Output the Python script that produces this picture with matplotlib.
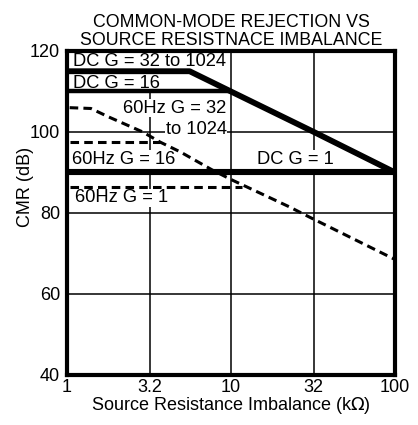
import matplotlib.pyplot as plt

plt.rcParams['font.family'] = ['Liberation Sans', 'DejaVu Sans']

# DC curves (thick solid)
dc_hi_x = [1, 5.6, 10, 32, 100]
dc_hi_y = [115, 115, 110, 100, 90]
dc_16_x = [1, 10]
dc_16_y = [110, 110]
dc_1_x = [1, 100]
dc_1_y = [90, 90]

# 60Hz curves (dashed)
ac_hi_x = [1.04, 1.4, 1.8, 2.9, 3.7, 4.9, 7.7, 10.2, 22.7, 30, 100]
ac_hi_y = [106, 105.8, 103.7, 100, 97.5, 95.1, 90.6, 88.1, 81.5, 79, 68.5]
ac_16_x = [1.04, 3.7]
ac_16_y = [97.5, 97.5]
ac_1_x = [1.04, 11.6]
ac_1_y = [86.5, 86.5]

xticks = [1, 3.2, 10, 32, 100]
xtick_labels = ["1", "3.2", "10", "32", "100"]
yticks = [40, 60, 80, 100, 120]

fig = plt.figure(figsize=(4.18, 4.25), dpi=100)
ax = fig.add_axes([0.160, 0.118, 0.785, 0.762])
ax.set_xscale('log')
ax.set_xlim(1, 100)
ax.set_ylim(40, 120)

# grid
for gx in [3.2, 10, 32]:
    ax.axvline(gx, color='black', lw=1.1, zorder=1)
for gy in [60, 80, 100]:
    ax.axhline(gy, color='black', lw=1.1, zorder=1)

ax.plot(dc_hi_x, dc_hi_y, color='black', lw=4.2, solid_capstyle='butt', zorder=3)
ax.plot(dc_16_x, dc_16_y, color='black', lw=3.2, solid_capstyle='butt', zorder=3)
ax.plot(dc_1_x, dc_1_y, color='black', lw=4.4, solid_capstyle='butt', zorder=3)

for xs, ys in [(ac_hi_x, ac_hi_y), (ac_16_x, ac_16_y), (ac_1_x, ac_1_y)]:
    ax.plot(xs, ys, color='black', lw=2.2, dashes=(2.8, 1.7), zorder=3)

box = dict(facecolor='white', edgecolor='none', pad=0.6)
fs = 13.2
ax.text(1.09, 117.4, "DC G = 32 to 1024", fontsize=fs, ha='left', va='center', bbox=box, zorder=2)
ax.text(1.09, 112.0, "DC G = 16", fontsize=fs, ha='left', va='center', bbox=box, zorder=2)
ax.text(9.4, 105.9, "60Hz G = 32", fontsize=fs, ha='right', va='center', bbox=box, zorder=2)
ax.text(9.4, 100.7, "to 1024", fontsize=fs, ha='right', va='center', bbox=box, zorder=2)
ax.text(1.07, 93.3, "60Hz G = 16", fontsize=fs, ha='left', va='center', bbox=box, zorder=2)
ax.text(1.12, 83.7, "60Hz G = 1", fontsize=fs, ha='left', va='center', bbox=box, zorder=2)
ax.text(14.5, 93.1, "DC G = 1", fontsize=fs, ha='left', va='center', bbox=box, zorder=2)

ax.set_xticks(xticks)
ax.set_xticklabels(xtick_labels)
ax.xaxis.set_minor_locator(plt.NullLocator())
ax.set_yticks(yticks)
ax.tick_params(length=0, labelsize=13)
ax.tick_params(axis='x', pad=3)
ax.tick_params(axis='y', pad=5)

for s in ax.spines.values():
    s.set_linewidth(3)
    s.set_zorder(5)

ax.set_xlabel("Source Resistance Imbalance (k$\\Omega$)", fontsize=13, labelpad=-1)
ax.set_ylabel("CMR (dB)", fontsize=13)
ax.yaxis.set_label_coords(-0.10, 0.58)
ax.set_title("COMMON-MODE REJECTION VS\nSOURCE RESISTNACE IMBALANCE", fontsize=12.8, pad=4,
             linespacing=1.1)

fig.savefig("out.png", dpi=100)
